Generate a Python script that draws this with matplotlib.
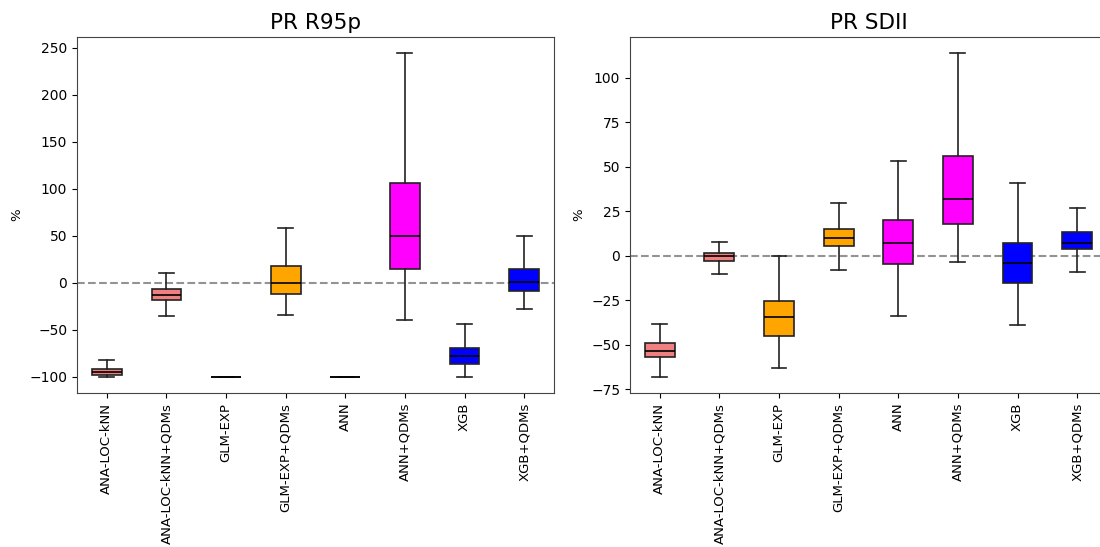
import matplotlib
matplotlib.use("Agg")
import matplotlib.pyplot as plt

# --- Models and box colours ---
models = ["ANA-LOC-kNN", "ANA-LOC-kNN+QDMs", "GLM-EXP", "GLM-EXP+QDMs",
          "ANN", "ANN+QDMs", "XGB", "XGB+QDMs"]
colors = ["lightcoral", "lightcoral", "orange", "orange",
          "magenta", "magenta", "blue", "blue"]

# --- PR R95p change (%) : whisker low, Q1, median, Q3, whisker high ---
r95p_whislo = [-100.0, -35.0, -100.0, -34.3, -100.0, -39.0, -100.0, -28.3]
r95p_q1     = [-98.2, -18.7, -100.0, -11.6, -100.0, 15.0, -86.2, -9.1]
r95p_med    = [-95.0, -12.7, -100.0, 0.0, -100.0, 50.1, -77.7, 0.4]
r95p_q3     = [-91.9, -6.7, -100.0, 17.8, -100.0, 106.6, -69.5, 14.6]
r95p_whishi = [-82.6, 10.4, -100.0, 58.3, -100.0, 244.3, -44.3, 50.0]

# --- PR SDII change (%) ---
sdii_whislo = [-68.1, -10.1, -63.4, -7.9, -33.7, -3.5, -39.2, -9.2]
sdii_q1     = [-57.2, -3.0, -45.2, 5.3, -4.5, 17.8, -15.2, 3.6]
sdii_med    = [-53.6, -0.4, -34.3, 10.0, 7.0, 31.7, -4.1, 7.3]
sdii_q3     = [-48.9, 1.7, -25.5, 15.0, 20.3, 56.3, 7.0, 13.3]
sdii_whishi = [-38.2, 7.9, 0.0, 29.5, 53.1, 113.9, 40.7, 26.8]


def make_stats(lo, q1, med, q3, hi):
    return [{"whislo": a, "q1": b, "med": c, "q3": d, "whishi": e, "fliers": []}
            for a, b, c, d, e in zip(lo, q1, med, q3, hi)]


def draw_panel(ax, stats, title):
    bp = ax.bxp(stats, patch_artist=True, showfliers=False,
                medianprops=dict(color="black", linewidth=1.2),
                whiskerprops=dict(color="#222222", linewidth=1.2),
                capprops=dict(color="#222222", linewidth=1.2),
                boxprops=dict(linewidth=1.2))
    for patch, c in zip(bp["boxes"], colors):
        patch.set_facecolor(c)
        patch.set_edgecolor("#222222")
    ax.axhline(0, color="gray", linestyle="--", linewidth=1.5, alpha=0.85, zorder=0)
    ax.set_xticks(range(1, len(models) + 1))
    ax.set_xticklabels(models, rotation=90, fontsize=9.5)
    ax.tick_params(axis="y", labelsize=10)
    ax.set_ylabel("%", fontsize=9.5)
    ax.set_title(title, fontsize=15.5)
    for s in ax.spines.values():
        s.set_color("#444444")


fig = plt.figure(figsize=(11, 5.47), dpi=100)
ax1 = fig.add_axes([0.070, 0.2815, 0.4336, 0.6508])
ax2 = fig.add_axes([0.5727, 0.2815, 0.4336, 0.6508])

draw_panel(ax1, make_stats(r95p_whislo, r95p_q1, r95p_med, r95p_q3, r95p_whishi), "PR R95p")
draw_panel(ax2, make_stats(sdii_whislo, sdii_q1, sdii_med, sdii_q3, sdii_whishi), "PR SDII")

fig.savefig("out.png", dpi=100)
